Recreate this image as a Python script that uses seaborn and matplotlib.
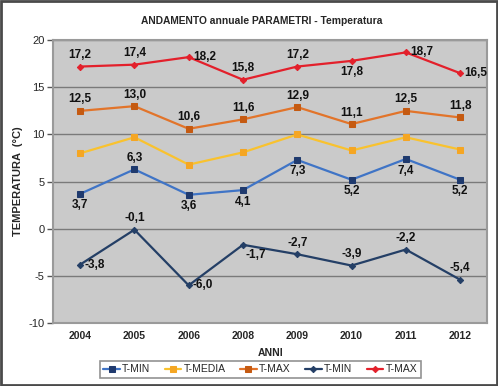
import numpy as np
import pandas as pd
import matplotlib.pyplot as plt
import seaborn as sns
from matplotlib.patches import Rectangle

# -----------------------------
# Data
# -----------------------------
anni = ['2004', '2005', '2006', '2008', '2009', '2010', '2011', '2012']
tmin_sq = [3.7, 6.3, 3.6, 4.1, 7.3, 5.2, 7.4, 5.2]
tmedia = [8.0, 9.7, 6.8, 8.1, 10.0, 8.3, 9.7, 8.4]
tmax_sq = [12.5, 13.0, 10.6, 11.6, 12.9, 11.1, 12.5, 11.8]
tmin_dm = [-3.8, -0.1, -6.0, -1.7, -2.7, -3.9, -2.2, -5.4]
tmax_dm = [17.2, 17.4, 18.2, 15.8, 17.2, 17.8, 18.7, 16.5]

# label placement per point: 'a' above, 'b' below, 'r' right, 'br' below-right
pos_tmin_sq = ['b', 'a', 'b', 'b', 'b', 'b', 'b', 'b']
pos_tmax_sq = ['a'] * 8
pos_tmin_dm = ['r', 'a', 'r', 'br', 'a', 'a', 'a', 'a']
pos_tmax_dm = ['a', 'a', 'r', 'a', 'a', 'b', 'r', 'r']

series = [
    ('T-MIN', tmin_sq, '#3f74c6', 's', '#1f3a6e', pos_tmin_sq),
    ('T-MEDIA', tmedia, '#f9c22e', 's', '#f5a623', None),
    ('T-MAX', tmax_sq, '#e2742a', 's', '#c55a11', pos_tmax_sq),
    ('T-MIN', tmin_dm, '#243f66', 'D', '#243f66', pos_tmin_dm),
    ('T-MAX', tmax_dm, '#e3202b', 'D', '#e3202b', pos_tmax_dm),
]

sns.set_style("white")
plt.rcParams['font.family'] = ['Liberation Sans', 'DejaVu Sans']
plt.rcParams['axes.unicode_minus'] = False

fig = plt.figure(figsize=(4.98, 3.86), dpi=100)
ax = fig.add_axes([0.1064, 0.163, 0.872, 0.733])
ax.set_facecolor('#cacaca')

offsets = {'a': (0, 4, 'center', 'bottom'),
           'b': (0, -4, 'center', 'top'),
           'r': (3, 0, 'left', 'center'),
           'br': (2, -3, 'left', 'top')}

for name, vals, col, mk, mcol, pos in series:
    df = pd.DataFrame({'anno': anni, 'val': vals})
    sns.lineplot(data=df, x='anno', y='val', ax=ax, color=col, lw=1.6,
                 marker=mk, markersize=4.5 if mk == 's' else 3.2,
                 markerfacecolor=mcol, markeredgecolor=mcol, label=name)
    if pos is None:
        continue
    for i, (v, p) in enumerate(zip(vals, pos)):
        dx, dy, ha, va = offsets[p]
        ax.annotate(f"{v:.1f}".replace('.', ','), (i, v), xytext=(dx, dy),
                    textcoords='offset points', ha=ha, va=va,
                    fontsize=8.5, fontweight='bold', color='#111111')

ax.set_ylim(-10, 20)
ax.set_yticks(np.arange(-10, 21, 5))
ax.set_xlim(-0.5, len(anni) - 0.5)
ax.yaxis.grid(True, color='#7a7a7a', lw=1)
ax.xaxis.grid(False)
ax.set_axisbelow(True)
for s in ax.spines.values():
    s.set_color('#9a9a9a')
    s.set_linewidth(1.5)
ax.tick_params(axis='y', length=4, width=1, color='#555555', labelsize=8, pad=2, left=True)
ax.tick_params(axis='x', length=0, labelsize=7.5, pad=6)
for t in ax.get_xticklabels():
    t.set_fontweight('bold')

ax.set_xlabel('ANNI', fontsize=7.5, fontweight='bold', labelpad=5)
ax.set_ylabel('TEMPERATURA  (°C)', fontsize=8, fontweight='bold', labelpad=4)
fig.text(0.526, 0.946, 'ANDAMENTO annuale PARAMETRI - Temperatura',
         ha='center', va='center', fontsize=7.4, fontweight='bold')

leg = ax.legend(loc='center', bbox_to_anchor=(0.477, -0.163), ncol=5,
                fontsize=7.5, frameon=True, fancybox=False,
                handlelength=1.6, handletextpad=0.2, columnspacing=1.4,
                borderpad=0.35)
leg.get_frame().set_edgecolor('#777777')
leg.get_frame().set_linewidth(1.2)

fig.patches.append(Rectangle((0.003, 0.003), 0.994, 0.994, transform=fig.transFigure,
                             fill=False, edgecolor='#4a4a4a', lw=2))

plt.savefig('out.png', dpi=100)
